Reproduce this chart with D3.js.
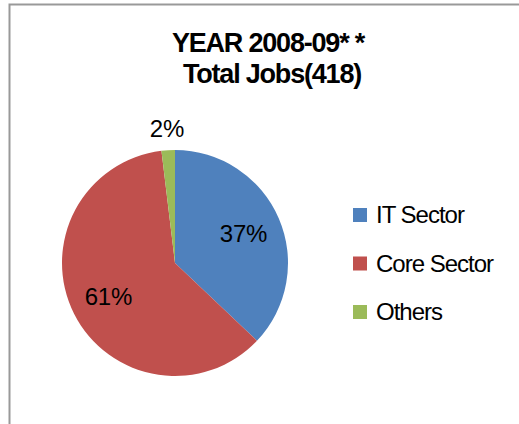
<!DOCTYPE html>
<html><head><meta charset="utf-8">
<script src="https://cdn.jsdelivr.net/npm/d3@7"></script>
<style>body{margin:0;background:#fff}svg{display:block;font-family:"Liberation Sans",Arial,sans-serif}</style>
</head><body>
<svg id="c" width="519" height="424"></svg>
<script>
const categories = ["IT Sector", "Core Sector", "Others"];
const values = [155, 255, 8];
const percentLabels = ["37%", "61%", "2%"];
const colors = ["#4F81BD", "#C0504D", "#9BBB59"];
const titleLines = ["YEAR 2008-09* *", "Total Jobs(418)"];

const svg = d3.select("#c");
svg.append("rect").attr("x", 9.5).attr("y", 4.5).attr("width", 530).attr("height", 440)
  .attr("fill", "#fff").attr("stroke", "#999").attr("stroke-width", 2);

svg.selectAll("text.title").data(titleLines).join("text").attr("class", "title")
  .attr("x", (d, i) => i === 0 ? 268 : 272).attr("y", (d, i) => 52 + i * 31)
  .attr("text-anchor", "middle").attr("font-size", 27).attr("font-weight", "bold")
  .attr("letter-spacing", -1.2).text(d => d);

const cx = 175, cy = 263, r = 113;
const pie = d3.pie().sort(null).value(d => d);
const arcs = pie(values);
const arc = d3.arc().innerRadius(0).outerRadius(r);
const g = svg.append("g").attr("transform", `translate(${cx},${cy})`);
g.selectAll("path").data(arcs).join("path").attr("d", arc).attr("fill", (d, i) => colors[i]);

const labelR = [0.66, 0.66, 1.19];
g.selectAll("text").data(arcs).join("text")
  .attr("transform", (d, i) => {
    const a = d3.arc().innerRadius(r * labelR[i]).outerRadius(r * labelR[i]);
    return `translate(${a.centroid(d)})`;
  })
  .attr("text-anchor", "middle").attr("dy", "0.35em").attr("font-size", 24)
  .attr("letter-spacing", -0.2).text((d, i) => percentLabels[i]);

const leg = svg.append("g");
const ly = d3.scalePoint().domain(categories).range([215, 312]);
categories.forEach((c, i) => {
  leg.append("rect").attr("x", 353).attr("y", ly(c) - 7).attr("width", 14).attr("height", 14).attr("fill", colors[i]);
  leg.append("text").attr("x", 376).attr("y", ly(c)).attr("dy", "0.35em").attr("font-size", 24)
    .attr("letter-spacing", -1).text(c);
});
</script>
</body></html>
